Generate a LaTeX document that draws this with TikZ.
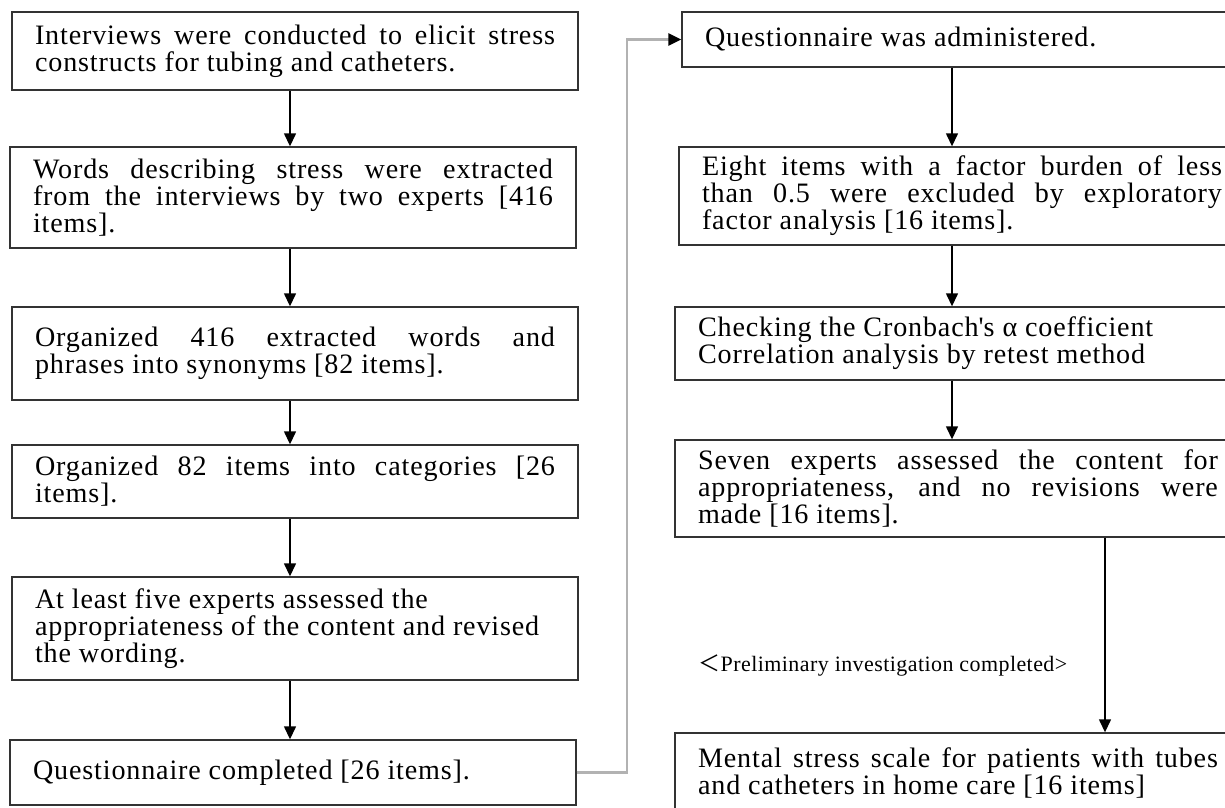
\documentclass[tikz,border=0pt]{standalone}
\usepackage{fontspec}
\setmainfont{Liberation Serif}[LetterSpace=3]
\newfontfamily\notefont{Liberation Serif}[LetterSpace=2]
\newfontfamily\cjkfont{Noto Sans CJK JP}
\usetikzlibrary{arrows.meta}
\tikzset{ t/.style = { rectangle % step box
        , draw = black!80
        , line width = 0.8pt
        , text width = 10.4cm
        , inner xsep = 0.46cm
        , inner ysep = 0pt
        , align = justify
        , font = \fontsize{16}{15.4}\selectfont
        }
        , c/.style = { rectangle % note
        , inner sep = 0pt
        , font = \notefont\fontsize{12.5}{13}\selectfont
        }
        }

\begin{document}
\begin{tikzpicture}[x=0.02cm, y=-0.02cm,
        edge_style/.style={draw=black, line width=0.8pt, -{Triangle[length=0.26cm,width=0.24cm]}},
        link_style/.style={draw=gray!60, line width=1.4pt, -{Triangle[length=0.26cm,width=0.24cm,color=black]}}]
        \useasboundingbox (0,0) rectangle (1225,808);
        \coordinate (lx) at (290,0);
        \coordinate (rx) at (952,0);
        \coordinate (fx) at (1105,0);
        \coordinate (jx) at (627,0);

        \node [t, minimum height=1.56cm](l1) at (295,51) {Interviews were conducted to elicit stress\linebreak constructs for tubing and catheters.};
        \node [t, minimum height=2.02cm](l2) at (293,197.5) {Words describing stress were extracted\linebreak from the interviews by two experts [416\linebreak items].};
        \node [t, minimum height=1.86cm](l3) at (295,353.5) {Organized 416 extracted words and\linebreak phrases into synonyms [82 items].};
        \node [t, minimum height=1.46cm](l4) at (295,481.5) {Organized 82 items into categories [26\linebreak items].};
        \node [t, minimum height=2.06cm](l5) at (295,628.5) {At least five experts assessed the\newline appropriateness of the content and revised\newline the wording.};
        \node [t, minimum height=1.3cm](l6) at (293,772.5) {Questionnaire completed [26 items].};

        \node [t, minimum height=1.1cm](r1) at (965,39.5) {Questionnaire was administered.};
        \node [t, minimum height=1.96cm](r2) at (962,196) {Eight items with a factor burden of less\linebreak than 0.5 were excluded by exploratory\linebreak factor analysis [16 items].};
        \node [t, minimum height=1.46cm](r3) at (958,343.5) {Checking the Cronbach\textquotesingle s α coefficient\newline Correlation analysis by retest method};
        \node [t, minimum height=1.94cm](r4) at (958,488.5) {Seven experts assessed the content for\linebreak appropriateness, and no revisions were\linebreak made [16 items].};
        \node [t, minimum height=1.6cm](r5) at (958,773) {Mental stress scale for patients with tubes\linebreak and catheters in home care [16 items]};
        \node [c](note) at (883,665) {{\cjkfont ＜}Preliminary investigation completed>};

        \draw [edge_style] (l1.south -| lx) -- (l2.north -| lx);
        \draw [edge_style] (l2.south -| lx) -- (l3.north -| lx);
        \draw [edge_style] (l3.south -| lx) -- (l4.north -| lx);
        \draw [edge_style] (l4.south -| lx) -- (l5.north -| lx);
        \draw [edge_style] (l5.south -| lx) -- (l6.north -| lx);
        \draw [link_style] (l6.east) -- (l6.east -| jx) |- (r1.west);
        \draw [edge_style] (r1.south -| rx) -- (r2.north -| rx);
        \draw [edge_style] (r2.south -| rx) -- (r3.north -| rx);
        \draw [edge_style] (r3.south -| rx) -- (r4.north -| rx);
        \draw [edge_style] (r4.south -| fx) -- (r5.north -| fx);
\end{tikzpicture}
\end{document}
